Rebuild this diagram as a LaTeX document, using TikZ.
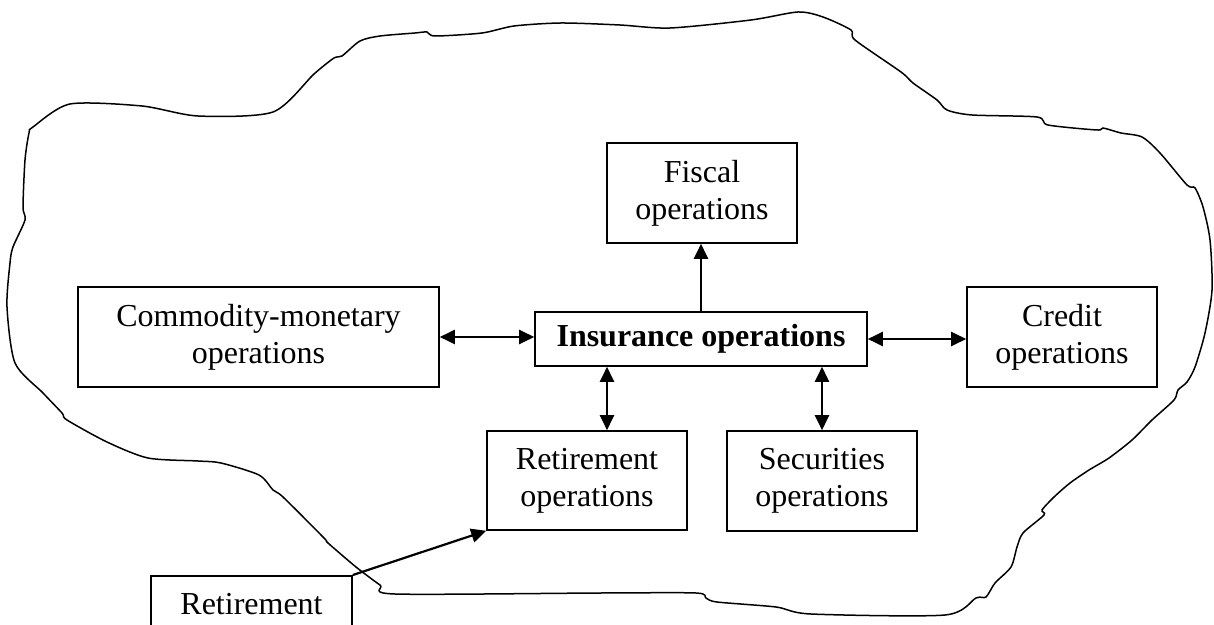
\documentclass[tikz,border=0pt]{standalone}
\usepackage{fontspec}
\setmainfont{Liberation Serif}
\usetikzlibrary{arrows.meta,calc}
\begin{document}
\begin{tikzpicture}[x=0.5pt,y=-0.5pt,
    >={Triangle[length=7.5pt,width=7pt]},
    opbox/.style={draw, line width=0.8pt, align=center, inner sep=0pt,
      font=\fontsize{16}{18.5}\selectfont},
    link/.style={line width=1.1pt}]
  \useasboundingbox (0,0) rectangle (1214,625);
  \clip (0,0) rectangle (1214,625);
  % the hand drawn outline
  \draw[line width=0.75pt] plot[smooth cycle, tension=0.45] coordinates {
    (70,104) (142,106) (198,116) (273,112) (314,74) (334,58) (342,56)
    (360,41) (380,36) (415,33) (427,32) (435,36) (482,33) (514,26)
    (561,23) (620,25) (670,28) (751,20) (798,12) (823,17) (851,30)
    (855,40) (901,72) (913,83) (937,100) (947,110) (972,115) (1037,117)
    (1048,125) (1097,130) (1103,128) (1121,133) (1142,137) (1160,153)
    (1187,185) (1195,188) (1203,207) (1210,240) (1212,290) (1205,333)
    (1195,367) (1187,382) (1178,390) (1174,400) (1152,420) (1132,440)
    (1109,458) (1089,470) (1070,483) (1054,497) (1042,510) (1044,515)
    (1023,533) (1017,547) (1011,567) (995,583) (986,597) (976,598)
    (945,615) (811,614) (776,607) (717,602) (706,598) (696,593)
    (600,593) (395,594) (380,585) (356,567) (328,543) (324,538)
    (283,497) (273,490) (259,475) (221,463) (198,461) (148,458)
    (107,442) (67,420) (62,413) (43,393) (15,363) (7,307) (10,263)
    (13,247) (25,220) (23,207) (25,160) (29,133) (33,127)};
  % operations
  \node[opbox, minimum width=95pt, minimum height=50pt] (fiscal) at (702,193) {Fiscal\\operations};
  \node[opbox, minimum width=166pt, minimum height=27pt, font=\fontsize{16}{18.5}\selectfont\bfseries] (insurance) at (701,339) {Insurance operations};
  \node[opbox, minimum width=180.5pt, minimum height=50pt] (commodity) at (258.5,337) {Commodity-monetary\\operations};
  \node[opbox, minimum width=95pt, minimum height=50pt] (credit) at (1062,337) {Credit\\operations};
  \node[opbox, minimum width=100pt, minimum height=49.5pt] (retops) at (587,480.5) {Retirement\\operations};
  \node[opbox, minimum width=95pt, minimum height=50pt] (securities) at (822,481) {Securities\\operations};
  \node[opbox, minimum width=100.5pt, anchor=north, inner ysep=9pt, text depth=30pt] (retirement) at (251.5,575) {Retirement};
  % links
  \draw[link, ->] (insurance.north) -- (insurance.north |- fiscal.south);
  \draw[link, <->] (commodity.east) -- (commodity.east -| insurance.west);
  \draw[link, <->] (insurance.east) -- (insurance.east -| credit.west);
  \draw[link, <->] ([xshift=10pt]retops.north |- insurance.south) -- ([xshift=10pt]retops.north);
  \draw[link, <->] (securities.north |- insurance.south) -- (securities.north);
  \draw[link, ->] (retirement.north east) -- (retops.south west);
\end{tikzpicture}
\end{document}
